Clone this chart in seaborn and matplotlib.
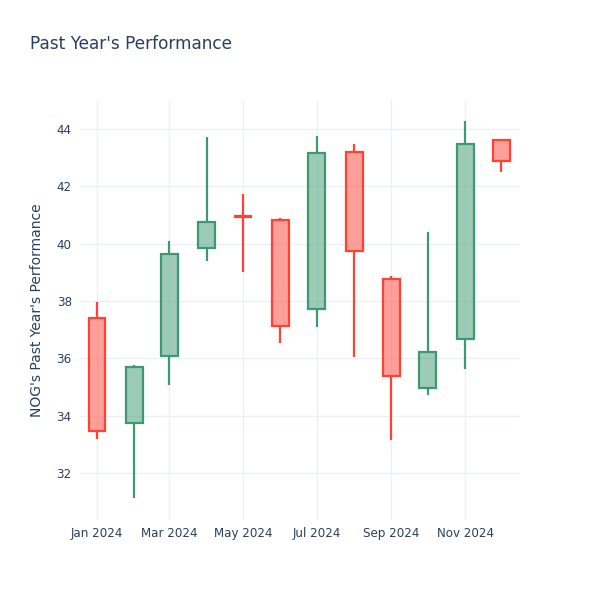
import numpy as np
import pandas as pd
import matplotlib
matplotlib.use("Agg")
import matplotlib.pyplot as plt
import matplotlib.dates as mdates
import seaborn as sns

# monthly OHLC
dates = pd.date_range("2024-01-01", periods=12, freq="MS")
opens = [37.41, 33.76, 36.08, 39.85, 40.95, 40.84, 37.72, 43.20, 38.77, 34.98, 36.68, 43.62]
highs = [37.95, 35.77, 40.09, 43.72, 41.73, 40.88, 43.77, 43.48, 38.86, 40.42, 44.28, 43.62]
lows = [33.20, 31.12, 35.08, 39.40, 39.01, 36.52, 37.10, 36.06, 33.15, 34.71, 35.64, 42.49]
closes = [33.48, 35.71, 39.65, 40.76, 40.92, 37.14, 43.16, 39.74, 35.40, 36.21, 43.47, 42.88]

df = pd.DataFrame({"date": dates, "open": opens, "high": highs, "low": lows, "close": closes})
df["top"] = df[["open", "close"]].max(axis=1)
df["bottom"] = df[["open", "close"]].min(axis=1)
df["up"] = df["close"] >= df["open"]

sns.set_style("white")
plt.rcParams["font.family"] = ["DejaVu Sans"]

INC = "#3D9970"
DEC = "#FF4136"
TXT = "#2a3f5f"
GRID = "#EBF0F8"

fig = plt.figure(figsize=(6, 6), dpi=100)
ax = fig.add_axes([80 / 600, 80 / 600, 440 / 600, 420 / 600])

for up, color in [(True, INC), (False, DEC)]:
    d = df[df["up"] == up]
    ax.vlines(d["date"], d["top"], d["high"], color=color, lw=1.6, zorder=3)
    ax.vlines(d["date"], d["low"], d["bottom"], color=color, lw=1.6, zorder=3)
    ax.bar(d["date"], (d["top"] - d["bottom"]).clip(lower=0.01), bottom=d["bottom"],
           width=14, facecolor=matplotlib.colors.to_rgba(color, 0.5),
           edgecolor=color, linewidth=1.6, zorder=4)

ax.set_xlim(pd.Timestamp("2024-01-01") - pd.Timedelta(days=14.1),
            pd.Timestamp("2024-01-01") + pd.Timedelta(days=350.5))
ax.set_ylim(30.36, 45.01)
ax.set_yticks(np.arange(32, 45, 2))
ax.xaxis.set_major_locator(mdates.MonthLocator(bymonth=[1, 3, 5, 7, 9, 11]))
ax.xaxis.set_major_formatter(mdates.DateFormatter("%b %Y"))

ax.grid(True, color=GRID, lw=1)
ax.set_axisbelow(True)
for s in ax.spines.values():
    s.set_visible(False)
ax.tick_params(length=0, labelsize=8.6, colors=TXT)
ax.tick_params(axis="y", pad=6)
ax.tick_params(axis="x", pad=5)

ax.set_ylabel("NOG's Past Year's Performance", fontsize=10, color=TXT, labelpad=9)
fig.text(30 / 600, 1 - 44 / 600, "Past Year's Performance", fontsize=12.2,
         color=TXT, va="center", ha="left")

fig.savefig("out.png", dpi=100, facecolor="white")
